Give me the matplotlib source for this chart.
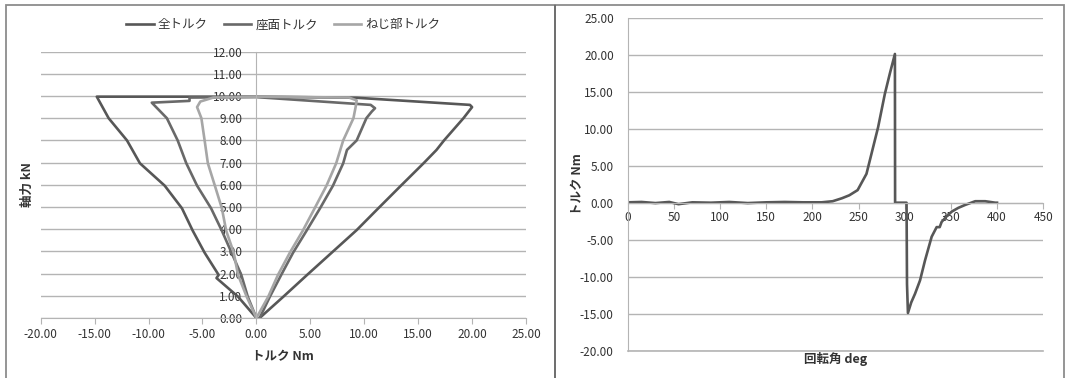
import numpy as np
import matplotlib
matplotlib.use("Agg")
import matplotlib.pyplot as plt
from matplotlib.patches import Rectangle

plt.rcParams['font.family'] = ['Noto Sans CJK JP', 'DejaVu Sans']

# Datos: grafica izquierda (axial force vs torque)
total_x = [0.3, 2.5, 4.7, 7.0, 9.3, 11.3, 13.4, 15.5, 16.7, 17.4, 19.2, 20.0, 19.8, 9.3, 0.0,
           -14.8, -13.7, -12.0, -10.8, -8.5, -6.9, -5.9, -4.8, -3.5, -3.7, -1.7, 0.0]
total_y = [0.0, 0.96, 1.94, 2.95, 3.96, 4.94, 5.96, 6.97, 7.57, 8.0, 9.0, 9.5, 9.6, 9.92, 9.97,
           9.97, 9.0, 8.0, 6.97, 5.96, 4.94, 3.93, 2.94, 1.94, 1.8, 0.96, 0.0]

seat_x = [0.3, 1.25, 2.3, 3.4, 4.65, 5.9, 7.1, 8.05, 8.4, 9.3, 10.2, 10.7, 11.0, 10.6, 0.0,
          -6.2, -6.2, -9.7, -8.3, -7.3, -6.5, -5.5, -4.2, -3.2, -2.3, -1.4, -0.8, 0.0]
seat_y = [0.0, 0.96, 1.94, 2.94, 3.93, 4.94, 5.96, 6.97, 7.57, 8.0, 9.0, 9.3, 9.45, 9.6, 9.95,
          9.93, 9.78, 9.7, 9.0, 8.0, 6.97, 5.96, 4.94, 3.93, 2.94, 1.94, 0.96, 0.0]

thread_x = [0.0, 1.1, 2.0, 3.1, 4.3, 5.4, 6.5, 7.4, 8.05, 9.0, 9.2, 9.3, 8.6, 0.0,
            -4.0, -5.2, -5.5, -5.1, -4.8, -4.5, -3.85, -3.2, -2.8, -2.1, -1.7, -0.9, 0.0]
thread_y = [0.0, 0.96, 1.94, 2.94, 3.93, 4.94, 5.96, 6.97, 8.0, 9.0, 9.5, 9.8, 9.93, 9.97,
            9.93, 9.75, 9.5, 9.0, 8.0, 6.97, 5.96, 4.94, 3.93, 2.94, 1.94, 0.96, 0.0]

series_names = ['全トルク', '座面トルク', 'ねじ部トルク']

# Datos: grafica derecha (torque vs angle)
angle = [0, 15, 30, 45, 55, 70, 90, 110, 130, 150, 170, 190, 210, 222, 232, 240, 249, 258.6,
         267.6, 271.2, 278.5, 284, 289.4, 289.6, 302, 302.5, 303.5, 307, 311.2, 316.6, 322,
         329.2, 334.6, 337.9, 340, 345, 351, 358, 365.5, 376.4, 387.2, 398.1, 400]
torque = [0.05, 0.1, -0.05, 0.1, -0.2, 0.05, 0.0, 0.1, -0.05, 0.05, 0.1, 0.05, 0.05, 0.2, 0.6,
          1.0, 1.7, 3.9, 8.4, 10.2, 14.7, 17.5, 20.1, 0.0, 0.0, -11.0, -14.9, -13.5, -12.3,
          -10.5, -7.8, -4.6, -3.3, -3.3, -2.6, -1.9, -1.2, -0.7, -0.3, 0.2, 0.2, 0.0, 0.0]

c_total = '#575757'
c_seat = '#696969'
c_thread = '#a6a6a6'
c_grid = '#b4b4b4'
c_text = '#333333'

fig = plt.figure(figsize=(10.65, 3.78), dpi=100)

# Marcos de los paneles
fig.patches.append(Rectangle((6 / 1065, -0.1), 549 / 1065, 1.1 - 5 / 378, transform=fig.transFigure,
                             fill=False, edgecolor='#8c8c8c', linewidth=1.3))
fig.patches.append(Rectangle((555 / 1065, -0.1), 509 / 1065, 1.1 - 5 / 378, transform=fig.transFigure,
                             fill=False, edgecolor='#8c8c8c', linewidth=1.3))
fig.patches.append(Rectangle((554 / 1065, 0), 2 / 1065, 1 - 5 / 378, transform=fig.transFigure,
                             color='#707070', linewidth=0))

# Grafica izquierda
ax1 = fig.add_axes([40.7 / 1065, 1 - 318 / 378, (526 - 40.7) / 1065, (318 - 51.6) / 378])
ax1.set_xlim(-20, 25)
ax1.set_ylim(0, 12)
ax1.set_yticks(np.arange(0, 13, 1))
ax1.set_yticklabels(['%.2f' % v for v in np.arange(0, 13, 1)])
ax1.set_xticks(np.arange(-20, 26, 5))
ax1.set_xticklabels(['%.2f' % v for v in np.arange(-20, 26, 5)])
ax1.grid(axis='y', color=c_grid, linewidth=1.0)
ax1.set_axisbelow(True)
for s in ['top', 'right']:
    ax1.spines[s].set_visible(False)
ax1.spines['left'].set_position(('data', 0))
ax1.spines['left'].set_color(c_grid)
ax1.spines['bottom'].set_color(c_grid)
ax1.tick_params(axis='y', length=0, pad=10, labelsize=8.5, labelcolor=c_text)
ax1.tick_params(axis='x', length=4, color=c_grid, pad=3, labelsize=8.5, labelcolor=c_text)

ax1.plot(total_x, total_y, color=c_total, linewidth=1.9, label=series_names[0])
ax1.plot(seat_x, seat_y, color=c_seat, linewidth=1.9, label=series_names[1])
ax1.plot(thread_x, thread_y, color=c_thread, linewidth=1.9, label=series_names[2])

ax1.set_xlabel('トルク Nm', fontsize=9, fontweight='bold', color=c_text, labelpad=7)
ax1.set_ylabel('軸力 kN', fontsize=9, fontweight='bold', color=c_text)
ax1.yaxis.set_label_coords(-0.014, 0.5)
ax1.legend(loc='center', bbox_to_anchor=(0.5, 1.1), ncol=3, frameon=False, fontsize=9,
           handlelength=2.2, handletextpad=0.3, columnspacing=1.3, labelcolor=c_text)

# Grafica derecha
ax2 = fig.add_axes([627.7 / 1065, 1 - 350.7 / 378, (1043.2 - 627.7) / 1065, (350.7 - 17.7) / 378])
ax2.set_xlim(0, 450)
ax2.set_ylim(-20, 25)
ax2.set_yticks(np.arange(-20, 26, 5))
ax2.set_yticklabels(['%.2f' % v for v in np.arange(-20, 26, 5)])
ax2.set_xticks(np.arange(0, 451, 50))
ax2.grid(axis='y', color=c_grid, linewidth=1.0)
ax2.set_axisbelow(True)
for s in ['top', 'right']:
    ax2.spines[s].set_visible(False)
ax2.spines['bottom'].set_position(('data', 0))
ax2.spines['left'].set_color(c_grid)
ax2.spines['bottom'].set_color(c_grid)
ax2.tick_params(axis='y', length=0, pad=10, labelsize=8.5, labelcolor=c_text)
ax2.tick_params(axis='x', length=4, color=c_grid, pad=2, labelsize=8.5, labelcolor=c_text)
ax2.axhline(-20, color=c_grid, linewidth=1.2, clip_on=False, zorder=0)

ax2.plot(angle, torque, color=c_total, linewidth=1.9)

ax2.set_xlabel('回転角 deg', fontsize=9, fontweight='bold', color=c_text)
ax2.xaxis.set_label_coords(0.5, -0.005)
ax2.set_ylabel('トルク Nm', fontsize=9, fontweight='bold', color=c_text)
ax2.yaxis.set_label_coords(-0.105, 0.5)

fig.savefig('out.png', dpi=100)
